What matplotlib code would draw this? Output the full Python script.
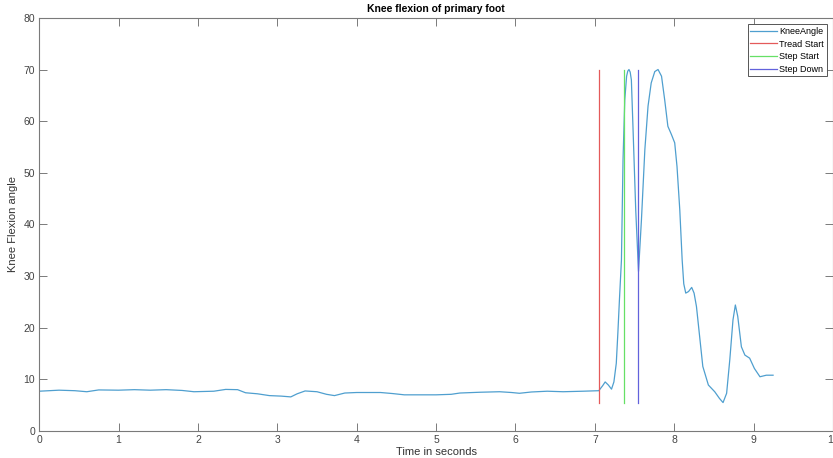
import matplotlib
matplotlib.use("Agg")
from matplotlib import pyplot as plt

plt.rcParams['font.family'] = ['Liberation Sans', 'DejaVu Sans']

# Knee angle samples (time in s, angle in degrees)
time_s = [0.00, 0.25, 0.45, 0.60, 0.75, 1.00, 1.20, 1.40, 1.60, 1.80,
          1.95, 2.20, 2.35, 2.50, 2.60, 2.75, 2.90, 3.05, 3.17, 3.25,
          3.35, 3.50, 3.62, 3.72, 3.85, 4.00, 4.30, 4.45, 4.60, 5.00,
          5.19, 5.30, 5.55, 5.80, 5.95, 6.05, 6.20, 6.40, 6.60, 6.85,
          7.05, 7.10, 7.13, 7.17, 7.21, 7.24, 7.27, 7.29, 7.31, 7.335,
          7.355, 7.377, 7.40, 7.415, 7.43, 7.445, 7.46, 7.48, 7.515, 7.55,
          7.587, 7.63, 7.67, 7.71, 7.755, 7.796, 7.84, 7.88, 7.92, 7.965,
          8.006, 8.035, 8.07, 8.10, 8.12, 8.145, 8.18, 8.22, 8.25, 8.28,
          8.32, 8.36, 8.43, 8.51, 8.57, 8.615, 8.66, 8.70, 8.74, 8.77,
          8.80, 8.846, 8.89, 8.95, 9.01, 9.08, 9.16, 9.245]
knee_angle = [7.7, 7.9, 7.8, 7.6, 7.95, 7.9, 8.0, 7.9, 8.0, 7.85,
              7.6, 7.7, 8.05, 8.0, 7.4, 7.2, 6.85, 6.75, 6.6, 7.2,
              7.75, 7.6, 7.1, 6.85, 7.35, 7.45, 7.45, 7.25, 7.0, 7.0,
              7.1, 7.35, 7.5, 7.6, 7.45, 7.3, 7.55, 7.7, 7.6, 7.7,
              7.8, 8.8, 9.5, 8.9, 8.1, 9.5, 13.1, 19.0, 25.5, 33.1,
              52.5, 64.1, 68.7, 69.7, 70.0, 69.5, 68.0, 59.0, 42.8, 30.9,
              40.9, 54.5, 62.9, 67.4, 69.6, 70.0, 68.7, 64.1, 59.0, 57.4,
              55.8, 51.2, 42.8, 33.1, 28.5, 26.7, 27.0, 27.8, 26.7, 24.1,
              18.3, 12.5, 8.9, 7.6, 6.3, 5.5, 7.3, 13.8, 21.5, 24.4,
              22.2, 16.3, 14.7, 14.1, 12.1, 10.5, 10.8, 10.8]

# event times (s)
tread_start = 7.05
step_start = 7.365
step_down = 7.548

fig = plt.figure(figsize=(8.33, 4.58), dpi=100)
ax = fig.add_axes([0.047, 0.059, 0.953, 0.902])

lo, hi = min(knee_angle), max(knee_angle)
ax.plot(time_s, knee_angle, color='#4f9fcf', lw=0.9, label='KneeAngle')
ax.plot([tread_start, tread_start], [lo, hi], color='#e45a5a', lw=0.9, label='Tread Start')
ax.plot([step_start, step_start], [lo, hi], color='#66e066', lw=0.9, label='Step Start')
ax.plot([step_down, step_down], [lo, hi], color='#6262dc', lw=0.9, label='Step Down')

ax.set_xlim(0, 10)
ax.set_ylim(0, 80)
ax.set_xticks(range(0, 11))
ax.set_yticks(range(0, 81, 10))

grey = '#7a7a7a'
for s in ax.spines.values():
    s.set_color(grey)
    s.set_linewidth(0.8)
ax.tick_params(direction='in', length=6, width=0.7, color=grey,
               labelcolor='#444444', labelsize=7.5, top=True, right=True, pad=3)

ax.set_title('Knee flexion of primary foot', fontsize=7.5, fontweight='bold', pad=4)
ax.set_xlabel('Time in seconds', fontsize=8, color='#333333', labelpad=1)
ax.set_ylabel('Knee Flexion angle', fontsize=8, color='#333333', labelpad=4)

leg = ax.legend(loc='upper right', fontsize=6.5, fancybox=False, framealpha=1,
                edgecolor='#555555', borderaxespad=0.7, handlelength=2.9,
                labelspacing=0.4, borderpad=0.3, handletextpad=0.3)
leg.get_frame().set_linewidth(0.7)

fig.savefig('out.png', dpi=100)
